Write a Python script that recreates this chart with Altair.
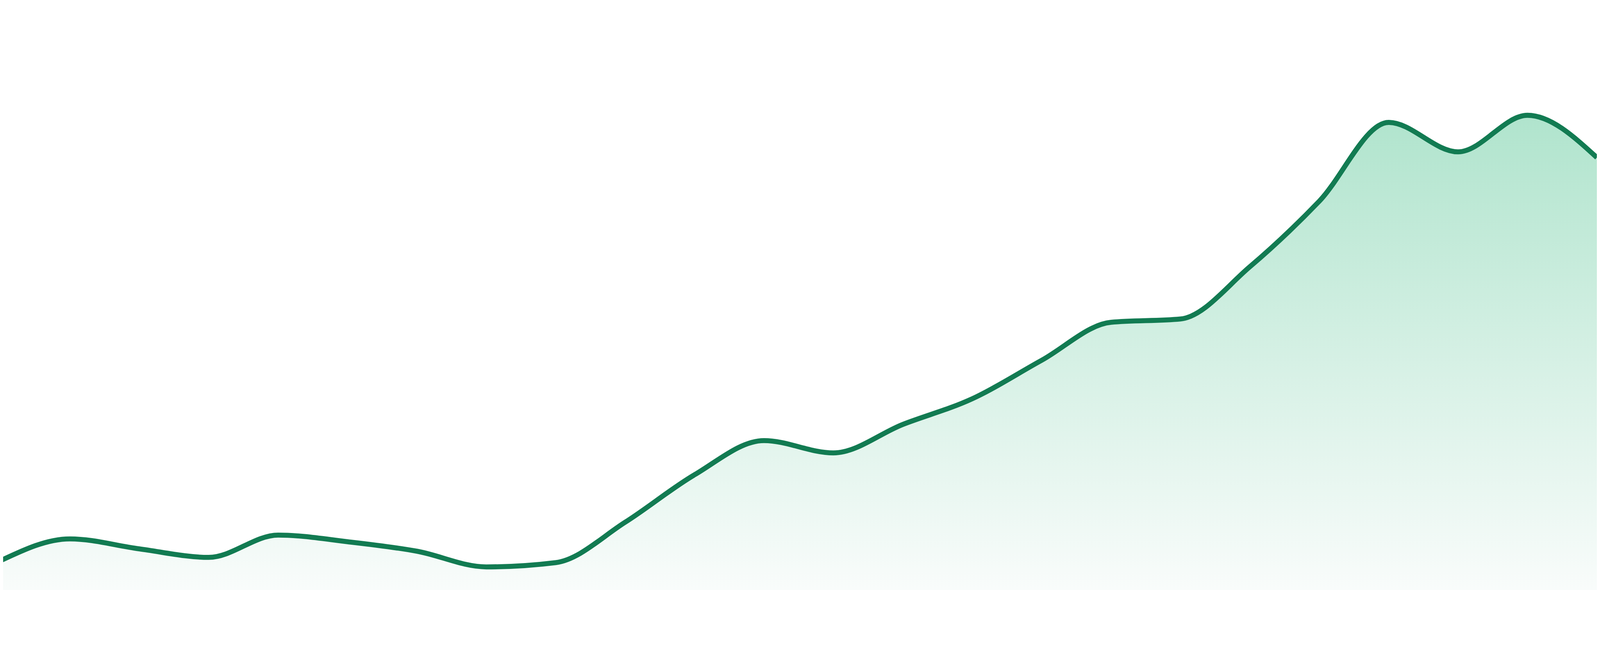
import altair as alt
import pandas as pd

# Series (24 evenly spaced samples, arbitrary units)
points = list(range(24))
values = [6.2, 10.8, 8.7, 6.9, 11.6, 10.2, 8.2, 4.9, 5.8, 14.3, 24.3, 31.5,
          28.9, 34.9, 40.3, 48.4, 56.4, 57.1, 68.1, 81.9, 98.5, 92.3, 100.0, 91.1]

LINE_COLOR = "#127b52"
TOP_COLOR = "#b0e4cd"
BOTTOM_COLOR = "#f9fcfb"

df = pd.DataFrame({"i": points, "v": values})

chart = alt.Chart(df).mark_area(
    interpolate="monotone",
    clip=True,
    opacity=1,
    line=alt.OverlayMarkDef(color=LINE_COLOR, strokeWidth=15, opacity=1),
    color=alt.Gradient(
        gradient="linear",
        stops=[alt.GradientStop(color=TOP_COLOR, offset=0),
               alt.GradientStop(color=BOTTOM_COLOR, offset=1)],
        x1=1, x2=1, y1=0, y2=1,
    ),
).encode(
    x=alt.X("i:Q", axis=None, scale=alt.Scale(domain=[0.038, 23], nice=False, zero=False)),
    y=alt.Y("v:Q", axis=None, scale=alt.Scale(domain=[0, 113.7], nice=False)),
).properties(
    width=4792,
    height=1624,
    padding=0,
    autosize=alt.AutoSizeParams(type="none"),
    background="white",
).configure_view(stroke=None)

chart.save("out.html", embed_options={"renderer": "svg", "actions": False})
